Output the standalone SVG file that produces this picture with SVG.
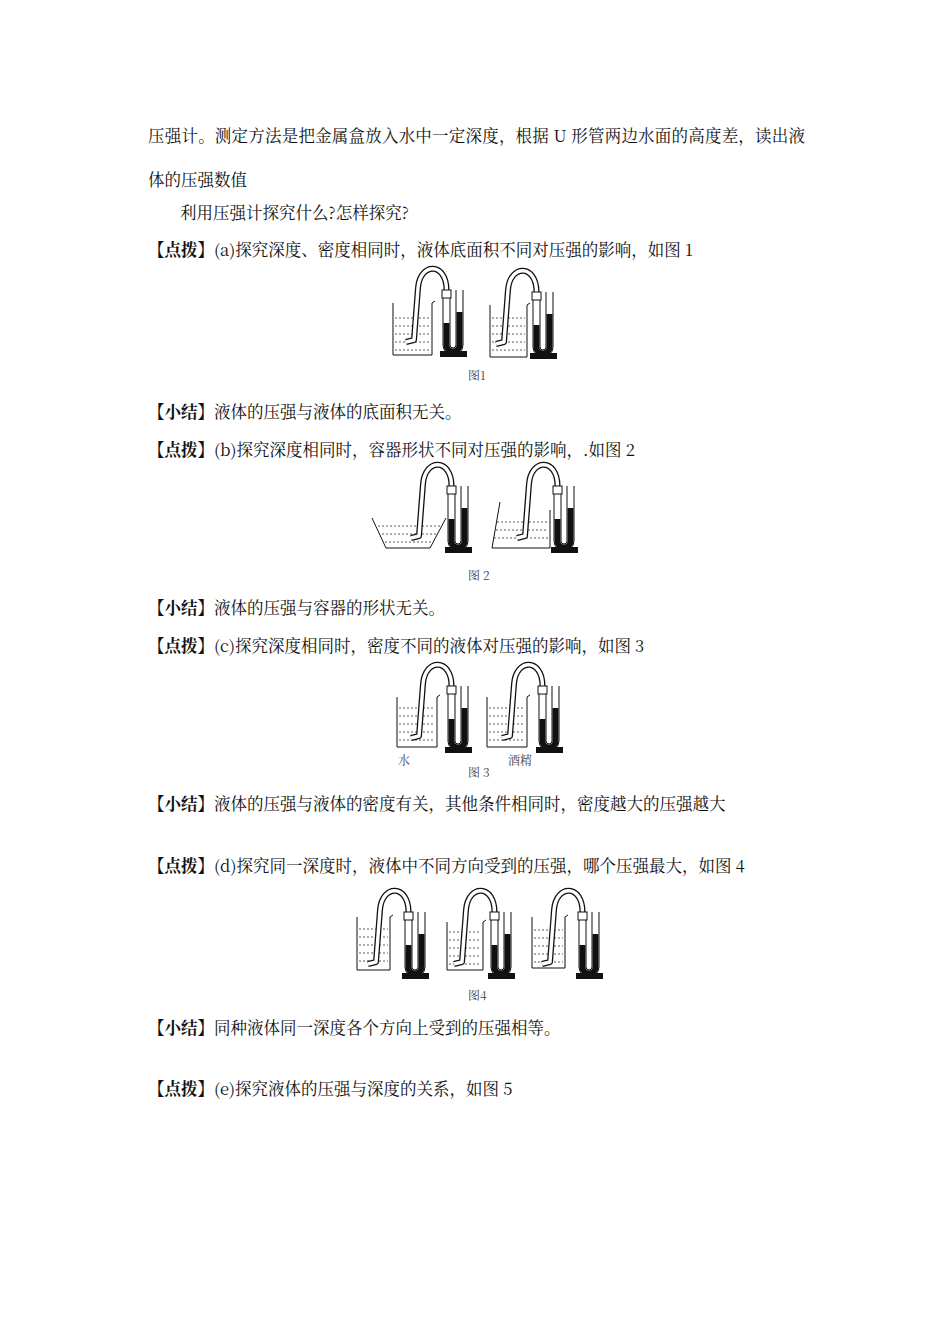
<svg xmlns="http://www.w3.org/2000/svg" width="950" height="1344" viewBox="0 0 950 1344">
<style>
text{font-family:"Noto Serif CJK SC","Noto Sans CJK SC",serif;font-size:16.5px;fill:#111}
.b{font-weight:bold}
.cap{font-size:12px;fill:#444}
.tube{fill:none;stroke:#111;stroke-width:6;stroke-linejoin:round}
.tin{fill:none;stroke:#fff;stroke-width:3.4;stroke-linejoin:round}
.ln{fill:none;stroke:#111;stroke-width:1}
.dash{stroke:#333;stroke-width:0.8;stroke-dasharray:2 2}
</style>
<defs>
<g id="gauge">
<rect x="0" y="0" width="9" height="8" fill="#fff" stroke="#111"/>
<path d="M1,8 V55 A10,10 0 0 0 21,55 V0 M8,8 V55 A3,3 0 0 0 14,55 V0" class="ln"/>
<path d="M4.5,33 V55 A6.5,6.5 0 0 0 17.5,55 V22" fill="none" stroke="#111" stroke-width="6"/>
<rect x="-2" y="61" width="27" height="6" fill="#111"/>
<path d="M7,58 V61 M14,58 V61" class="ln"/>
</g>
<g id="pipe">
<path d="M4.5,0 C4.5,-28 -22,-28 -24,-2 L-28,50 L-36,52" class="tube"/>
<path d="M4.5,0 C4.5,-28 -22,-28 -24,-2 L-28,50 L-36,52" class="tin"/>
</g>
</defs>
<g id="text">
<text x="148" y="142" textLength="657" lengthAdjust="spacing">压强计。测定方法是把金属盒放入水中一定深度，根据 U 形管两边水面的高度差，读出液</text>
<text x="148" y="186">体的压强数值</text>
<text x="180" y="219">利用压强计探究什么?怎样探究?</text>
<text x="148" y="256"><tspan class="b">【点拨】</tspan>(a)探究深度、密度相同时，液体底面积不同对压强的影响，如图 1</text>
<text x="468" y="380" class="cap">图1</text>
<text x="148" y="418"><tspan class="b">【小结】</tspan>液体的压强与液体的底面积无关。</text>
<text x="148" y="456"><tspan class="b">【点拨】</tspan>(b)探究深度相同时，容器形状不同对压强的影响，.如图 2</text>
<text x="468" y="580" class="cap">图 2</text>
<text x="148" y="614"><tspan class="b">【小结】</tspan>液体的压强与容器的形状无关。</text>
<text x="148" y="652"><tspan class="b">【点拨】</tspan>(c)探究深度相同时，密度不同的液体对压强的影响，如图 3</text>
<text x="398" y="765" class="cap">水</text>
<text x="508" y="765" class="cap">酒精</text>
<text x="468" y="777" class="cap">图 3</text>
<text x="148" y="810"><tspan class="b">【小结】</tspan>液体的压强与液体的密度有关，其他条件相同时，密度越大的压强越大</text>
<text x="148" y="872"><tspan class="b">【点拨】</tspan>(d)探究同一深度时，液体中不同方向受到的压强，哪个压强最大，如图 4</text>
<text x="468" y="1000" class="cap">图4</text>
<text x="148" y="1034"><tspan class="b">【小结】</tspan>同种液体同一深度各个方向上受到的压强相等。</text>
<text x="148" y="1095"><tspan class="b">【点拨】</tspan>(e)探究液体的压强与深度的关系，如图 5</text>
</g>
<g id="fig1">
<path d="M393,303 V355 H432 V303 M432,303 l3,-2" class="ln"/>
<path d="M395,318 H430 M395,326 H430 M395,334 H430 M395,342 H430 M395,350 H430" class="dash"/>
<use href="#pipe" x="442" y="290"/><use href="#gauge" x="442" y="290"/>
<path d="M490,305 V357 H527 V305 M527,305 l3,-2" class="ln"/>
<path d="M492,318 H525 M492,326 H525 M492,334 H525 M492,342 H525 M492,350 H525" class="dash"/>
<use href="#pipe" x="532" y="292"/><use href="#gauge" x="532" y="292"/>
</g>
<g id="fig2">
<path d="M372,518 L386,548 H430 L446,518" class="ln"/>
<path d="M378,526 H440 M382,534 H436 M385,542 H432" class="dash"/>
<use href="#pipe" x="447" y="486"/><use href="#gauge" x="447" y="486"/>
<path d="M500,502 L492,548 H550 V510" class="ln"/>
<path d="M497,522 H548 M496,530 H548 M494,538 H548" class="dash"/>
<use href="#pipe" x="553" y="486"/><use href="#gauge" x="553" y="486"/>
</g>
<g id="fig3">
<path d="M397,697 V747 H437 V697 M437,697 l3,-2" class="ln"/>
<path d="M399,708 H435 M399,716 H435 M399,724 H435 M399,732 H435 M399,740 H435" class="dash"/>
<use href="#pipe" x="447" y="686"/><use href="#gauge" x="447" y="686"/>
<path d="M487,697 V747 H527 V697 M527,697 l3,-2" class="ln"/>
<path d="M489,708 H525 M489,716 H525 M489,724 H525 M489,732 H525 M489,740 H525" class="dash"/>
<use href="#pipe" x="538" y="686"/><use href="#gauge" x="538" y="686"/>
</g>
<g id="fig4">
<path d="M357,917 V970 H390 V917 M390,917 l3,-2" class="ln"/>
<path d="M359,929 H388 M359,937 H388 M359,945 H388 M359,953 H388 M359,961 H388" class="dash"/>
<use href="#pipe" x="404" y="912"/><use href="#gauge" x="404" y="912"/>
<path d="M447,922 V970 H483 V922 M483,922 l3,-2" class="ln"/>
<path d="M449,932 H481 M449,940 H481 M449,948 H481 M449,956 H481 M449,964 H481" class="dash"/>
<use href="#pipe" x="490" y="912"/><use href="#gauge" x="490" y="912"/>
<path d="M532,917 V968 H565 V917 M565,917 l3,-2" class="ln"/>
<path d="M534,930 H563 M534,938 H563 M534,946 H563 M534,954 H563 M534,962 H563" class="dash"/>
<use href="#pipe" x="578" y="912"/><use href="#gauge" x="578" y="912"/>
</g>
</svg>
